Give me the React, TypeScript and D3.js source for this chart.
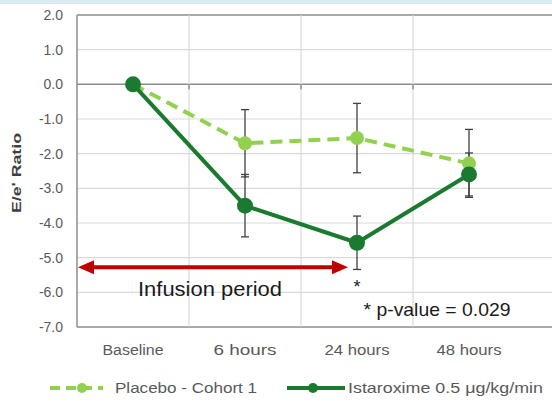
import React from "react";
import * as d3 from "d3";

const categories = ["Baseline", "6 hours", "24 hours", "48 hours"];
const placeboValues = [0, -1.7, -1.55, -2.28];
const placeboErrors = [0, 0.97, 1.0, 0.98];
const istaroximeValues = [0, -3.5, -4.57, -2.6];
const istaroximeErrors = [0, 0.9, 0.77, 0.62];
const yTicks = [2, 1, 0, -1, -2, -3, -4, -5, -6, -7];
const arrowValue = -5.28;

const W = 552;
const H = 403;
const left = 77;
const plotRight = 525;
const top = 15;
const bottom = 327;
const LIGHT = "#92d050";
const DARK = "#1a7b30";
const FONT = "'Liberation Sans', Arial, sans-serif";

export default function App() {
  const x = d3.scaleBand<string>().domain(categories).range([left, plotRight]);
  const cx = (c: string) => (x(c) as number) + x.bandwidth() / 2;
  const y = d3.scaleLinear().domain([-7, 2]).range([bottom, top]);

  const line = d3
    .line<number>()
    .x((_, i) => cx(categories[i]))
    .y((v) => y(v));

  const boundaries = categories.slice(1).map((c) => x(c) as number);

  const arrowY = y(arrowValue);
  const arrowX1 = left + 1;
  const arrowX2 = cx("24 hours") - 9;

  const errBars = (vals: number[], errs: number[], key: string) =>
    vals.map((v, i) =>
      errs[i] > 0 ? (
        <g key={key + i} stroke="#404040" strokeWidth={1.3}>
          <line x1={cx(categories[i])} x2={cx(categories[i])} y1={y(v + errs[i])} y2={y(v - errs[i])} />
          <line x1={cx(categories[i]) - 4} x2={cx(categories[i]) + 4} y1={y(v + errs[i])} y2={y(v + errs[i])} />
          <line x1={cx(categories[i]) - 4} x2={cx(categories[i]) + 4} y1={y(v - errs[i])} y2={y(v - errs[i])} />
        </g>
      ) : null
    );

  const xLabelWidths = [61, 63, 65, 65];

  return (
    <svg
      width={W}
      height={H}
      style={{ position: "absolute", left: 0, top: 0, display: "block", background: "#fff" }}
      fontFamily={FONT}
    >
      <rect x={0} y={0} width={W} height={4} fill="#d9eaf0" />
      {yTicks.map((t) => (
        <line
          key={"g" + t}
          x1={left}
          x2={W}
          y1={y(t)}
          y2={y(t)}
          stroke={t === 0 || t === 2 || t === -7 ? "#8c8c8c" : "#d9d9d9"}
          strokeWidth={t === 0 || t === 2 || t === -7 ? 1.5 : 1.2}
        />
      ))}
      {boundaries.map((b, i) => (
        <line key={"v" + i} x1={b} x2={b} y1={top} y2={bottom} stroke="#d9d9d9" strokeWidth={1.2} />
      ))}
      {boundaries.map((b, i) => (
        <line key={"t" + i} x1={b} x2={b} y1={y(0)} y2={y(0) + 5} stroke="#8c8c8c" strokeWidth={1.5} />
      ))}
      <line x1={left} x2={left} y1={top} y2={bottom} stroke="#8c8c8c" strokeWidth={1.5} />

      {yTicks.map((t) => (
        <text key={"yl" + t} x={63} y={y(t)} dy="0.35em" textAnchor="end" fontSize={14} fill="#595959">
          {t.toFixed(1)}
        </text>
      ))}
      <text
        transform={`translate(21,173) rotate(-90)`}
        textAnchor="middle"
        fontSize={13}
        fontWeight="bold"
        fill="#404040"
        textLength={80}
        lengthAdjust="spacingAndGlyphs"
      >
        E/e' Ratio
      </text>

      {categories.map((c, i) => (
        <text
          key={"xl" + c}
          x={cx(c)}
          y={355}
          textAnchor="middle"
          fontSize={14}
          fill="#595959"
          textLength={xLabelWidths[i]}
          lengthAdjust="spacingAndGlyphs"
        >
          {c}
        </text>
      ))}

      {errBars(placeboValues, placeboErrors, "pe")}
      {errBars(istaroximeValues, istaroximeErrors, "ie")}

      <path d={line(placeboValues) as string} fill="none" stroke={LIGHT} strokeWidth={4} strokeDasharray="12 7" />
      <path d={line(istaroximeValues) as string} fill="none" stroke={DARK} strokeWidth={4} />
      {placeboValues.map((v, i) => (
        <circle key={"pc" + i} cx={cx(categories[i])} cy={y(v)} r={7} fill={LIGHT} />
      ))}
      {istaroximeValues.map((v, i) => (
        <circle key={"ic" + i} cx={cx(categories[i])} cy={y(v)} r={8} fill={DARK} />
      ))}

      <line x1={arrowX1 + 12} x2={arrowX2 - 12} y1={arrowY} y2={arrowY} stroke="#c00000" strokeWidth={4} />
      <path
        d={`M${arrowX1},${arrowY} L${arrowX1 + 16},${arrowY - 7} L${arrowX1 + 16},${arrowY + 7} Z`}
        fill="#c00000"
      />
      <path
        d={`M${arrowX2},${arrowY} L${arrowX2 - 16},${arrowY - 7} L${arrowX2 - 16},${arrowY + 7} Z`}
        fill="#c00000"
      />
      <text
        x={210}
        y={296}
        textAnchor="middle"
        fontSize={21}
        fill="#1a1a1a"
        textLength={144}
        lengthAdjust="spacingAndGlyphs"
      >
        Infusion period
      </text>
      <text x={cx("24 hours")} y={293} textAnchor="middle" fontSize={18} fill="#1a1a1a">
        *
      </text>
      <text
        x={437}
        y={316}
        textAnchor="middle"
        fontSize={19}
        fill="#1a1a1a"
        textLength={147}
        lengthAdjust="spacingAndGlyphs"
      >
        * p-value = 0.029
      </text>

      <g>
        <line x1={50} x2={103} y1={388} y2={388} stroke={LIGHT} strokeWidth={4} strokeDasharray="10 6" />
        <circle cx={82} cy={388} r={5} fill={LIGHT} />
        <text
          x={115}
          y={388}
          dy="0.35em"
          fontSize={15}
          fill="#595959"
          textLength={142}
          lengthAdjust="spacingAndGlyphs"
        >
          Placebo - Cohort 1
        </text>
        <line x1={287} x2={345} y1={388} y2={388} stroke={DARK} strokeWidth={4} />
        <circle cx={313} cy={388} r={5} fill={DARK} />
        <text
          x={348}
          y={388}
          dy="0.35em"
          fontSize={15}
          fill="#595959"
          textLength={195}
          lengthAdjust="spacingAndGlyphs"
        >
          Istaroxime 0.5 μg/kg/min
        </text>
      </g>
    </svg>
  );
}
